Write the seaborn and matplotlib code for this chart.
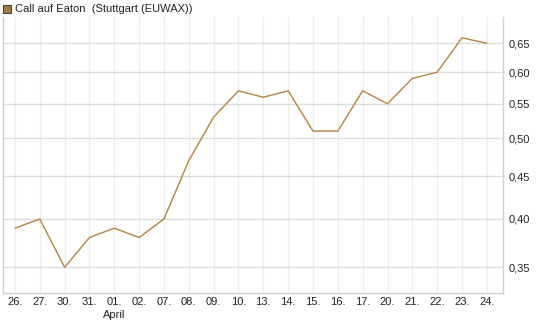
import matplotlib
matplotlib.use("Agg")
import matplotlib.pyplot as plt
import seaborn as sns
import pandas as pd
from matplotlib.ticker import FixedLocator, FuncFormatter, NullLocator
from matplotlib.patches import Rectangle

dates = ["26.", "27.", "30.", "31.", "01.", "02.", "07.", "08.", "09.", "10.",
         "13.", "14.", "15.", "16.", "17.", "20.", "21.", "22.", "23.", "24."]
values = [0.39, 0.40, 0.35, 0.38, 0.39, 0.38, 0.40, 0.47, 0.53, 0.57,
          0.56, 0.57, 0.51, 0.51, 0.57, 0.55, 0.59, 0.60, 0.66, 0.65]
yticks = [0.35, 0.40, 0.45, 0.50, 0.55, 0.60, 0.65]
title = "Call auf Eaton  (Stuttgart (EUWAX))"

sns.set_theme(style="white")
plt.rcParams["font.family"] = ["Liberation Sans", "DejaVu Sans"]

df = pd.DataFrame({"i": range(len(dates)), "v": values})

fig = plt.figure(figsize=(5.45, 3.27), dpi=100)
ax = fig.add_axes([3/545, 1 - 293/327, (503-3)/545, (293-17)/327])
sns.lineplot(data=df, x="i", y="v", ax=ax, color="#b5833f", linewidth=1.0)
ax.set_yscale("log")
ax.set_ylim(0.326, 0.699)
ax.set_xlim(-0.48, 19.65)
ax.yaxis.set_major_locator(FixedLocator(yticks))
ax.yaxis.set_minor_locator(NullLocator())
ax.yaxis.set_major_formatter(FuncFormatter(lambda v, p: f"{v:.2f}".replace(".", ",")))
ax.yaxis.tick_right()
ax.set_xticks(range(len(dates)))
ax.set_xticklabels(dates)
ax.set_xlabel("")
ax.set_ylabel("")
ax.tick_params(axis="both", labelsize=8, colors="#222222", length=0, pad=4)
ax.tick_params(axis="x", pad=3)
ax.grid(axis="y", color="#dddddd", linewidth=1.0)
ax.grid(axis="x", color="#eeeeee", linewidth=1.0)
for s in ["left", "bottom", "right"]:
    ax.spines[s].set_visible(True)
    ax.spines[s].set_color("#d0d0d0")
    ax.spines[s].set_linewidth(1.0)
ax.spines["top"].set_visible(False)

ax.text(4, -17/276, "April", transform=ax.get_xaxis_transform(), ha="center",
        va="top", fontsize=8, color="#222222")

fig.patches.append(Rectangle((3/545, 1 - 13/327), 8/545, 8/327, transform=fig.transFigure,
                             facecolor="#a47a45", edgecolor="#444444", linewidth=0.8))
fig.text(15/545, 1 - 9/327, title, fontsize=8, color="#222222", va="center", ha="left")

fig.savefig("out.png", dpi=100)
